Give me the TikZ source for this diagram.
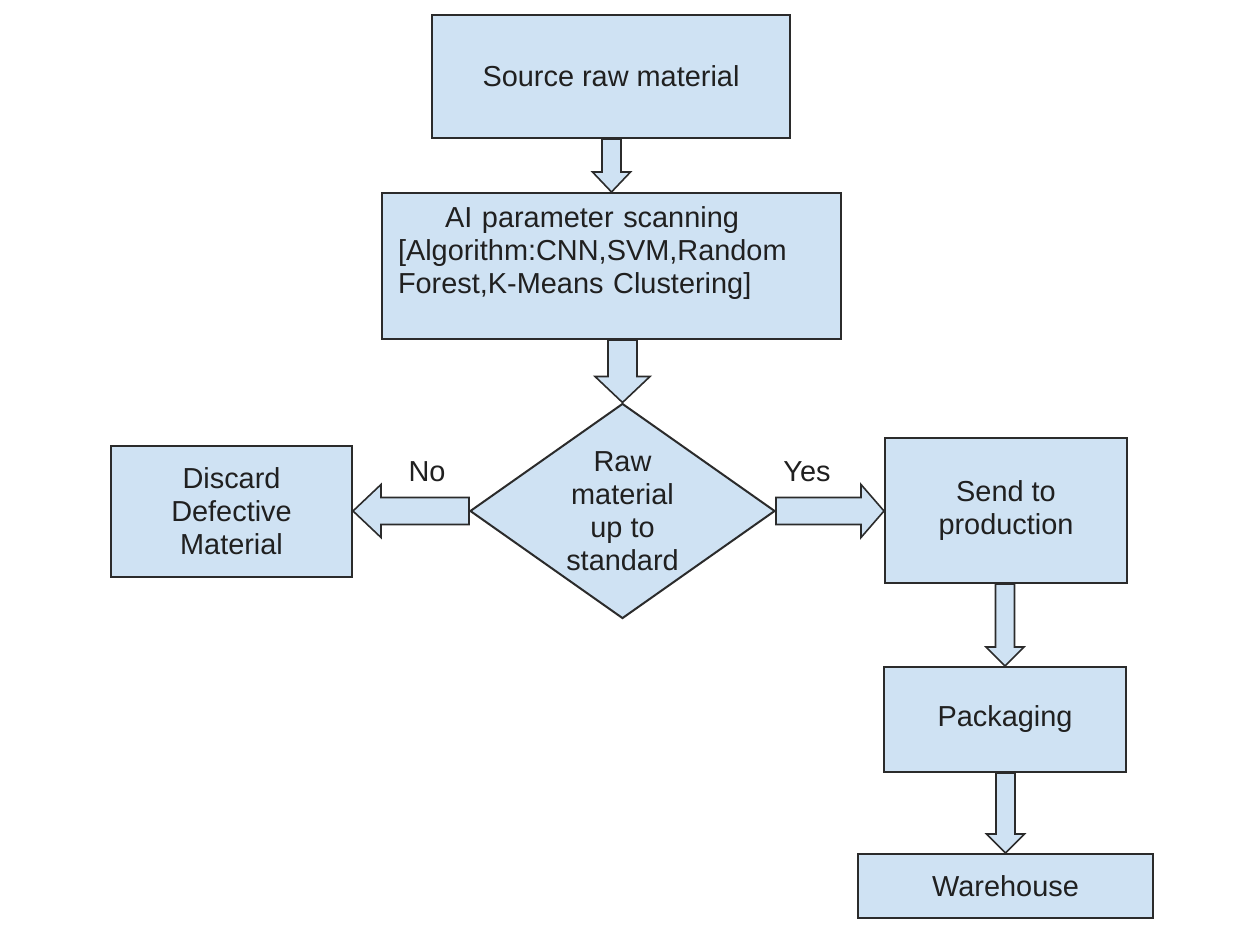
\documentclass[tikz,border=0pt]{standalone}
\usepackage{fontspec}
\setmainfont{Liberation Sans}
\usetikzlibrary{shapes.geometric,calc}

\definecolor{boxfill}{HTML}{CFE2F3}
\definecolor{boxline}{HTML}{2B2B2B}
\definecolor{inktext}{HTML}{202020}

\tikzset{
  box/.style={draw=boxline,fill=boxfill,line width=2pt,inner sep=0pt,
    align=center,text=inktext},
  decision/.style={box,diamond,aspect=1.42},
  tag/.style={text=inktext},
  blockarrow/.style={draw=boxline,fill=boxfill,line width=1.6pt,line join=miter}
}

% #1 from, #2 to, #3 half shaft, #4 half head, #5 head length
\newcommand{\blockdown}[5]{%
  \draw[blockarrow] let \p1=(#1.south), \p2=(#2.north) in
    (\x2-#3,\y1) -- (\x2-#3,\y2+#5) -- (\x2-#4,\y2+#5) -- (\x2,\y2)
    -- (\x2+#4,\y2+#5) -- (\x2+#3,\y2+#5) -- (\x2+#3,\y1) -- cycle;}
\newcommand{\blockright}[5]{%
  \draw[blockarrow] let \p1=(#1.east), \p2=(#2.west) in
    (\x1,\y1-#3) -- (\x2-#5,\y1-#3) -- (\x2-#5,\y1-#4) -- (\x2,\y1)
    -- (\x2-#5,\y1+#4) -- (\x2-#5,\y1+#3) -- (\x1,\y1+#3) -- cycle;}
\newcommand{\blockleft}[5]{%
  \draw[blockarrow] let \p1=(#1.west), \p2=(#2.east) in
    (\x1,\y1-#3) -- (\x2+#5,\y1-#3) -- (\x2+#5,\y1-#4) -- (\x2,\y1)
    -- (\x2+#5,\y1+#4) -- (\x2+#5,\y1+#3) -- (\x1,\y1+#3) -- cycle;}

\begin{document}
\begin{tikzpicture}[x=1pt,y=-1pt,font=\fontsize{28.9}{33}\selectfont]
\useasboundingbox[fill=white] (0,0) rectangle (1255,925);

\node (src) [box,minimum width=358pt,minimum height=123pt] at (611,76.5)
    {Source raw material};
\node (scan) [box,minimum width=459pt,minimum height=146pt,
    text width=427pt,align=left] at (611.5,266)
    {\hspace*{47pt}AI parameter scanning\\
     {[}Algorithm:CNN,SVM,Random\\
     Forest,K-Means Clustering{]}\\[-10pt] \strut};
\node (dec) [decision,minimum width=305pt,minimum height=215pt] at (622.5,511)
    {Raw\\material\\up to\\standard};
\node (disc) [box,minimum width=241pt,minimum height=131pt] at (231.5,511.5)
    {Discard\\Defective\\Material};
\node (send) [box,minimum width=242pt,minimum height=145pt] at (1006,510.5)
    {Send to\\production};
\node (pack) [box,minimum width=242pt,minimum height=105pt] at (1005,719.5)
    {Packaging};
\node (ware) [box,minimum width=295pt,minimum height=64pt] at (1005.5,886)
    {Warehouse};

\node (no) [tag] at (427,472) {No};
\node (yes) [tag] at (807,472) {Yes};

\blockdown{src}{scan}{9.5pt}{19pt}{20pt}
\blockdown{scan}{dec}{14.5pt}{27.5pt}{26pt}
\blockleft{dec}{disc}{13.5pt}{26.5pt}{28pt}
\blockright{dec}{send}{13.5pt}{26.5pt}{23pt}
\blockdown{send}{pack}{9.5pt}{19pt}{19pt}
\blockdown{pack}{ware}{9.5pt}{19pt}{19pt}

\end{tikzpicture}
\end{document}
